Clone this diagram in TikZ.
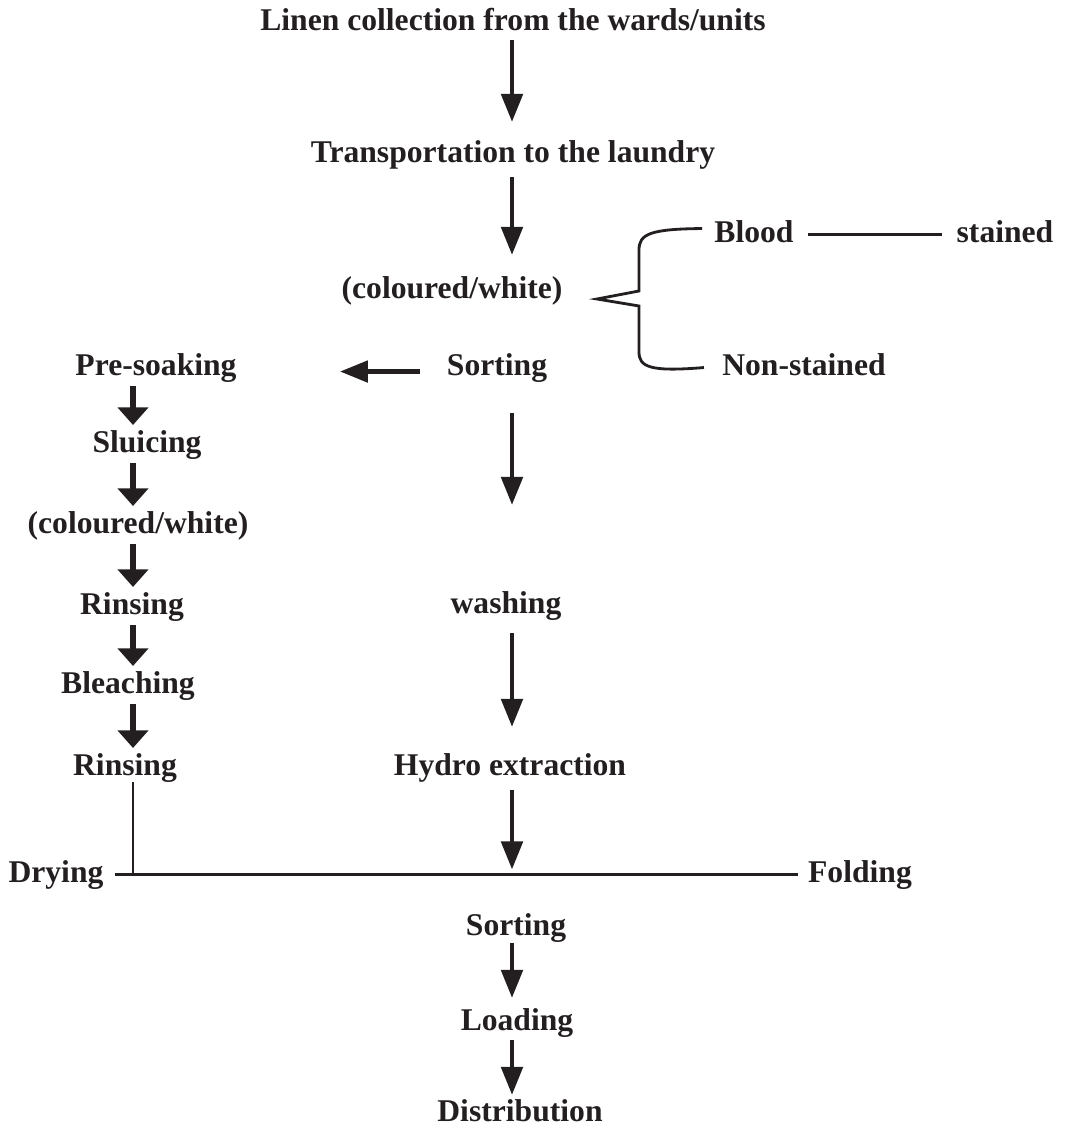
\documentclass[tikz,border=0pt]{standalone}
\usepackage{fontspec}
\setmainfont{Liberation Serif}
\usetikzlibrary{arrows.meta,calc}
\definecolor{ink}{HTML}{231F20}
\tikzset{
        lbl/.style={anchor=base, inner sep=0pt, text height=12.5pt, text depth=4pt, text=ink, font=\bfseries\fontsize{18}{21}\selectfont},
        darr/.style={draw=ink, line width=2.8pt, -{Triangle[length=16pt, width=12pt]}},
        sarr/.style={draw=ink, line width=3pt, -{Triangle[length=10pt, width=17pt]}},
        thinline/.style={draw=ink, line width=1.7pt},
        brace/.style={draw=ink, line width=1.6pt, line join=miter}
          }
\begin{document}
\begin{tikzpicture}[x=0.02cm, y=-0.02cm]
        \useasboundingbox (0,0) rectangle (1065,1130);
        \coordinate (mcol) at (512,0);
        \coordinate (lcol) at (133,0);
        \node[lbl] (linen) at (513,30) {Linen collection from the wards/units};
        \node[lbl] (transp) at (513,162) {Transportation to the laundry};
        \node[lbl] (colw) at (452,298) {(coloured/white)};
        \node[lbl] (blood) at (754,242) {Blood};
        \node[lbl] (stained) at (1005,242) {stained};
        \node[lbl] (nonst) at (804,375) {Non-stained};
        \node[lbl] (sortA) at (497,375) {Sorting};
        \node[lbl] (presoak) at (156,375) {Pre-soaking};
        \node[lbl] (sluice) at (147,452) {Sluicing};
        \node[lbl] (colw2) at (138,533) {(coloured/white)};
        \node[lbl] (rinseA) at (132,614) {Rinsing};
        \node[lbl] (bleach) at (128,693) {Bleaching};
        \node[lbl] (rinseB) at (125,775) {Rinsing};
        \node[lbl] (wash) at (506,613) {washing};
        \node[lbl] (hydro) at (510,775) {Hydro extraction};
        \node[lbl] (drying) at (56,882) {Drying};
        \node[lbl] (folding) at (860,882) {Folding};
        \node[lbl] (sortB) at (516,935) {Sorting};
        \node[lbl] (load) at (517,1030) {Loading};
        \node[lbl] (distr) at (520,1121) {Distribution};

        \draw[darr] ($(linen.base -| mcol)+(0,10)$) -- ($(transp.base -| mcol)+(0,-40)$);
        \draw[darr] ($(transp.base -| mcol)+(0,15)$) -- ($(colw.base -| mcol)+(0,-43)$);
        \draw[darr] ($(sortA.base -| mcol)+(0,38)$) -- ($(wash.base -| mcol)+(0,-108)$);
        \draw[darr] ($(wash.base -| mcol)+(0,20)$) -- ($(hydro.base -| mcol)+(0,-48)$);
        \draw[darr] ($(hydro.base -| mcol)+(0,15)$) -- ($(drying.east -| mcol)+(0,-5)$);
        \draw[darr] ($(sortB.base -| mcol)+(0,8)$) -- ($(load.base -| mcol)+(0,-32)$);
        \draw[darr] ($(load.base -| mcol)+(0,10)$) -- ($(distr.base -| mcol)+(0,-26)$);
        \draw[darr] ($(sortA.west)+(-27,4)$) -- ($(presoak.east)+(103,4)$);

        \foreach \a/\b in {presoak/sluice, sluice/colw2, colw2/rinseA, rinseA/bleach, bleach/rinseB}
          \draw[sarr] ($(\a.base -| lcol)+(0,11)$) -- ($(\b.base -| lcol)+(0,-27)$);

        \draw[thinline] ($(drying.east)+(11,0)$) -- ($(folding.west)+(-10,0)$);
        \draw[thinline] ($(rinseB.base -| lcol)+(0,7)$) -- (drying.east -| lcol);
        \draw[thinline] ($(blood.east)+(14,0)$) -- ($(stained.west)+(-14,0)$);

        \coordinate (tip) at (597,299);
        \draw[brace] ($(blood.west)+(-12,-6)$) .. controls (650,229) and (639,234) .. (639,250)
          -- (639,291) -- (tip) -- (639,306) -- (639,352)
          .. controls (639,367) and (650,372) .. ($(nonst.west)+(-18,0)$);
\end{tikzpicture}
\end{document}
